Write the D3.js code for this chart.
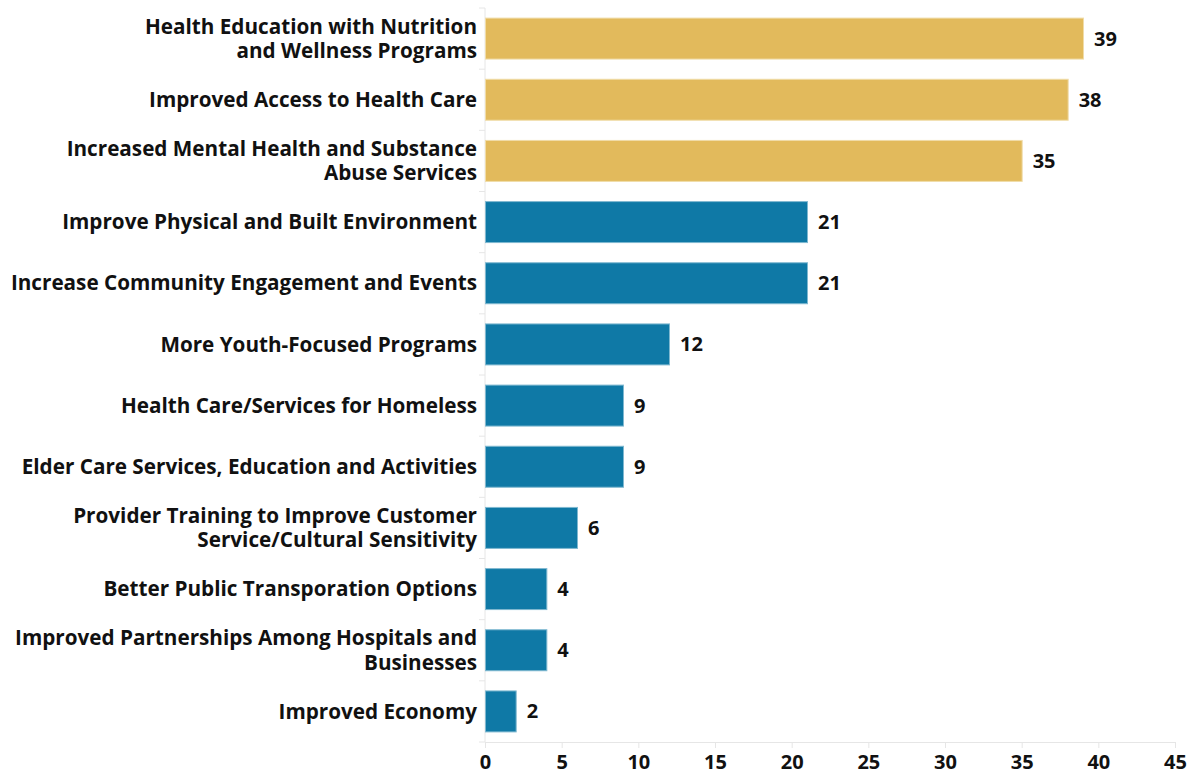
<!DOCTYPE html>
<html><head><meta charset="utf-8">
<script src="https://cdn.jsdelivr.net/npm/d3@7"></script>
<style>
body{margin:0;background:#fff;}
text{font-family:"Open Sans",sans-serif;font-weight:700;fill:#111;}
</style></head>
<body><svg id="chart" width="1196" height="777"></svg>
<script>
const categories = [
  ["Health Education with Nutrition","and Wellness Programs"],
  ["Improved Access to Health Care"],
  ["Increased Mental Health and Substance","Abuse Services"],
  ["Improve Physical and Built Environment"],
  ["Increase Community Engagement and Events"],
  ["More Youth-Focused Programs"],
  ["Health Care/Services for Homeless"],
  ["Elder Care Services, Education and Activities"],
  ["Provider Training to Improve Customer","Service/Cultural Sensitivity"],
  ["Better Public Transporation Options"],
  ["Improved Partnerships Among Hospitals and","Businesses"],
  ["Improved Economy"]
];
const values = [39, 38, 35, 21, 21, 12, 9, 9, 6, 4, 4, 2];
const highlight = [true, true, true, false, false, false, false, false, false, false, false, false];
const xTicks = [0, 5, 10, 15, 20, 25, 30, 35, 40, 45];

const gold = "#e2ba5c", blue = "#0f79a6";
const svg = d3.select("#chart");
const mLeft = 485, mRight = 1175, mTop = 8, mBottom = 742;

const x = d3.scaleLinear().domain([0, 45]).range([mLeft, mRight]);
const y = d3.scaleBand().domain(d3.range(values.length)).range([mTop, mBottom]).paddingInner(0.33).paddingOuter(0.165);

// axes
const xAxis = svg.append("g").attr("transform", `translate(0,${mBottom})`)
  .call(d3.axisBottom(x).tickValues(xTicks).tickSize(6).tickPadding(7).tickSizeOuter(0));
xAxis.select(".domain").attr("stroke", "#e6e6e6");
xAxis.selectAll(".tick line").attr("stroke", "#e6e6e6");
xAxis.selectAll(".tick text").style("font-size", "20px").style("font-family", "Open Sans").style("font-weight", 700).attr("fill", "#111");

// y axis line and band-boundary ticks
const yb = svg.append("g");
yb.append("line").attr("x1", mLeft).attr("x2", mLeft).attr("y1", mTop).attr("y2", mBottom).attr("stroke", "#e6e6e6");
const bounds = d3.range(values.length + 1).map(i => mTop + i * y.step());
yb.selectAll("line.t").data(bounds).join("line").attr("class", "t")
  .attr("x1", mLeft - 6).attr("x2", mLeft).attr("y1", d => d).attr("y2", d => d).attr("stroke", "#e6e6e6");

// bars
svg.append("g").selectAll("rect").data(values).join("rect")
  .attr("x", x(0) + 0.5)
  .attr("y", (d, i) => y(i))
  .attr("width", d => x(d) - x(0))
  .attr("height", y.bandwidth())
  .attr("fill", (d, i) => highlight[i] ? gold : blue)
  .attr("stroke", (d, i) => highlight[i] ? "#f0dca8" : "#7fb8d0")
  .attr("stroke-width", 1);

// value labels
svg.append("g").selectAll("text").data(values).join("text")
  .attr("x", d => x(d) + 11)
  .attr("y", (d, i) => y(i) + y.bandwidth() / 2)
  .attr("dy", "0.35em")
  .style("font-size", "20px")
  .text(d => d);

// category labels
const lh = 24.5, fs = 20.7;
const lab = svg.append("g").selectAll("text").data(categories).join("text")
  .attr("text-anchor", "end")
  .style("font-size", fs + "px")
  .attr("y", (d, i) => y(i) + y.bandwidth() / 2);
lab.each(function(d) {
  const t = d3.select(this);
  d.forEach((line, j) => {
    t.append("tspan").attr("x", 477)
      .attr("dy", j === 0 ? (0.35 * fs - (d.length - 1) * lh / 2) + "px" : lh + "px")
      .text(line);
  });
});
</script></body></html>
